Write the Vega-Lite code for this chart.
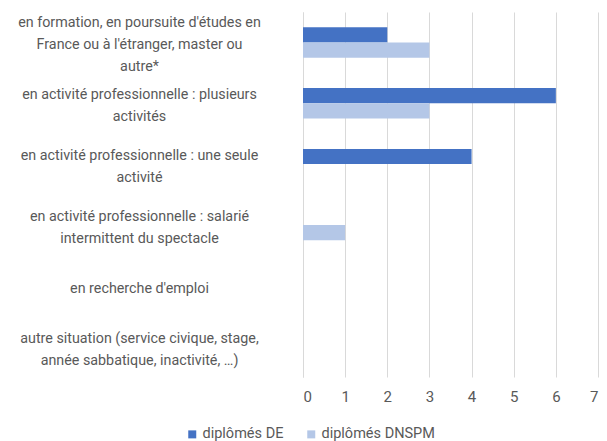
{
  "$schema": "https://vega.github.io/schema/vega-lite/v6.json",
  "width": 295,
  "height": 365,
  "autosize": {"type": "none"},
  "padding": {"left": 303, "top": 12, "right": 9, "bottom": 64},
  "background": "white",
  "config": {
    "view": {"stroke": null},
    "font": "Roboto",
    "text": {"color": "#595959"}
  },
  "data": {
    "values": [
      {"situation": "en formation, en poursuite d'études en|France ou à l'étranger, master ou|autre*", "serie": "diplômés DE", "n": 2},
      {"situation": "en formation, en poursuite d'études en|France ou à l'étranger, master ou|autre*", "serie": "diplômés DNSPM", "n": 3},
      {"situation": "en activité professionnelle : plusieurs|activités", "serie": "diplômés DE", "n": 6},
      {"situation": "en activité professionnelle : plusieurs|activités", "serie": "diplômés DNSPM", "n": 3},
      {"situation": "en activité professionnelle : une seule|activité", "serie": "diplômés DE", "n": 4},
      {"situation": "en activité professionnelle : une seule|activité", "serie": "diplômés DNSPM", "n": 0},
      {"situation": "en activité professionnelle : salarié|intermittent du spectacle", "serie": "diplômés DE", "n": 0},
      {"situation": "en activité professionnelle : salarié|intermittent du spectacle", "serie": "diplômés DNSPM", "n": 1},
      {"situation": "en recherche d'emploi", "serie": "diplômés DE", "n": 0},
      {"situation": "en recherche d'emploi", "serie": "diplômés DNSPM", "n": 0},
      {"situation": "autre situation (service civique, stage,|année sabbatique, inactivité, …)", "serie": "diplômés DE", "n": 0},
      {"situation": "autre situation (service civique, stage,|année sabbatique, inactivité, …)", "serie": "diplômés DNSPM", "n": 0}
    ]
  },
  "mark": {"type": "bar"},
  "encoding": {
    "y": {
      "field": "situation",
      "type": "nominal",
      "sort": null,
      "title": null,
      "scale": {"paddingInner": 0.5, "paddingOuter": 0.25},
      "axis": {
        "labelExpr": "split(datum.label, '|')",
        "labelAlign": "center",
        "labelBaseline": "middle",
        "labelPadding": 164,
        "labelLineHeight": 22,
        "labelOffset": {"expr": "3 - (length(split(datum.label, '|')) - 1) * 11"},
        "labelFontSize": 14.3,
        "labelColor": "#595959",
        "labelLimit": 400,
        "ticks": false,
        "tickSize": 0,
        "domainColor": "#d9d9d9",
        "domainWidth": 1
      }
    },
    "yOffset": {"field": "serie", "type": "nominal", "sort": ["diplômés DE", "diplômés DNSPM"], "scale": {"paddingInner": 0, "paddingOuter": 0}},
    "x": {
      "field": "n",
      "type": "quantitative",
      "title": null,
      "scale": {"domain": [0, 7]},
      "axis": {
        "values": [0, 1, 2, 3, 4, 5, 6, 7],
        "domain": false,
        "ticks": false,
        "grid": true,
        "gridColor": "#d9d9d9",
        "labelFontSize": 15,
        "labelColor": "#595959",
        "labelPadding": 12
      }
    },
    "color": {
      "field": "serie",
      "type": "nominal",
      "sort": ["diplômés DE", "diplômés DNSPM"],
      "scale": {"domain": ["diplômés DE", "diplômés DNSPM"], "range": ["#4472C4", "#B4C7E7"]},
      "legend": {
        "title": null,
        "orient": "none",
        "direction": "horizontal",
        "legendX": -118,
        "legendY": 415,
        "symbolType": "square",
        "symbolSize": 64,
        "symbolStrokeWidth": 0,
        "labelFontSize": 14.5,
        "labelColor": "#595959",
        "labelOffset": 3,
        "columnPadding": 20
      }
    }
  }
}
